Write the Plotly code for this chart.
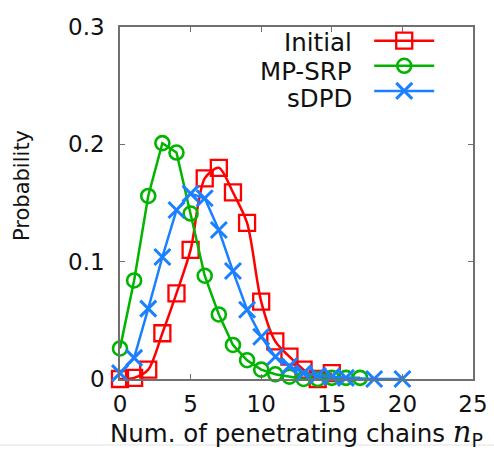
import plotly.graph_objects as go

# ---- data ----
initial_n = list(range(0, 16))
initial_p = [0.000, 0.001, 0.008, 0.039, 0.073, 0.110, 0.171, 0.180,
             0.159, 0.133, 0.066, 0.032, 0.019, 0.008, 0.000, 0.005]

mpsrp_n = list(range(0, 18))
mpsrp_p = [0.026, 0.084, 0.156, 0.201, 0.193, 0.141, 0.088, 0.055,
           0.029, 0.016, 0.008, 0.004, 0.002, 0.000, 0.000, 0.001, 0.001, 0.001]

sdpd_n = [0, 1, 2, 3, 4, 5, 6, 7, 8, 9, 10, 11, 12, 13, 14, 15, 16, 18, 20]
sdpd_p = [0.005, 0.018, 0.060, 0.104, 0.144, 0.158, 0.154, 0.127, 0.092,
          0.059, 0.036, 0.019, 0.011, 0.005, 0.003, 0.002, 0.001, 0.000, 0.000]

series_names = ["Initial", "MP-SRP", "sDPD"]
x_ticks = [0, 5, 10, 15, 20, 25]
y_ticks = [0, 0.1, 0.2, 0.3]
y_ticklabels = ["0", "0.1", "0.2", "0.3"]

RED = "#ff0000"
GREEN = "#00b400"
BLUE = "#1a80ff"
AXC = "#707070"
TXT = "#111111"
FONT = "DejaVu Sans"

fig = go.Figure()

fig.add_trace(go.Scatter(
    x=initial_n, y=initial_p, mode="lines+markers", name=" ",
    line=dict(color=RED, width=2.5, shape="spline", smoothing=0.8),
    marker=dict(symbol="square-open", size=16, color=RED, line=dict(width=2.3, color=RED)),
    cliponaxis=False,
))
fig.add_trace(go.Scatter(
    x=mpsrp_n, y=mpsrp_p, mode="lines+markers", name=" ",
    line=dict(color=GREEN, width=2.5),
    marker=dict(symbol="circle-open", size=14, color=GREEN, line=dict(width=2.6, color=GREEN)),
    cliponaxis=False,
))
fig.add_trace(go.Scatter(
    x=sdpd_n, y=sdpd_p, mode="lines+markers", name=" ",
    line=dict(color=BLUE, width=2.5),
    marker=dict(symbol="x-thin", size=16, color=BLUE, line=dict(width=3, color=BLUE)),
    cliponaxis=False,
))

# legend labels placed to the left of the legend samples
label_y = [0.955, 0.875, 0.798]
for name, yy in zip(series_names, label_y):
    fig.add_annotation(
        text=name, xref="paper", yref="paper", x=0.662, y=yy,
        xanchor="right", yanchor="middle", showarrow=False,
        font=dict(family=FONT, size=24.5, color=TXT),
    )

# y-axis title
fig.add_annotation(
    text="Probability", xref="paper", yref="paper", x=-0.276, y=0.55,
    xanchor="center", yanchor="middle", textangle=-90, showarrow=False,
    font=dict(family=FONT, size=21, color=TXT),
)

# faint rule near the bottom of the picture
fig.add_shape(type="line", xref="paper", yref="paper", x0=-0.34, x1=1.06,
              y0=-0.1875, y1=-0.1875, line=dict(color="#e2e2e2", width=1), layer="below")

fig.update_layout(
    width=494, height=451,
    margin=dict(l=119.5, r=21, t=27, b=72, autoexpand=False),
    paper_bgcolor="white", plot_bgcolor="white",
    font=dict(family=FONT, size=23, color=TXT),
    showlegend=True,
    legend=dict(
        x=0.706, y=1.011, xanchor="left", yanchor="top",
        bgcolor="rgba(0,0,0,0)", font=dict(size=17, family=FONT),
        itemwidth=60, tracegroupgap=0,
    ),
    xaxis=dict(
        range=[0, 25], tickvals=x_ticks, ticks="inside", ticklen=5,
        tickcolor=AXC, showline=True, linecolor=AXC, linewidth=1.5, mirror="ticks",
        showgrid=False, zeroline=False, ticklabelstandoff=4, automargin=False,
        tickfont=dict(family=FONT, size=23, color=TXT),
        title=dict(
            text="Num. of penetrating chains <span style='font-family:\"DejaVu Serif\";font-size:29px'><i>n</i></span>"
                 "<sub><span style='font-size:19px'>P</span></sub>",
            font=dict(family=FONT, size=24.5, color=TXT), standoff=14,
        ),
    ),
    yaxis=dict(
        range=[0, 0.3], tickvals=y_ticks, ticktext=y_ticklabels, ticks="inside", ticklen=5,
        tickcolor=AXC, showline=True, linecolor=AXC, linewidth=1.5, mirror="ticks",
        showgrid=False, zeroline=False, ticklabelstandoff=9, automargin=False,
        tickfont=dict(family=FONT, size=23, color=TXT),
    ),
)

fig.write_html("out.html", config={"displayModeBar": False},
               post_script="document.body.style.margin='0';")
